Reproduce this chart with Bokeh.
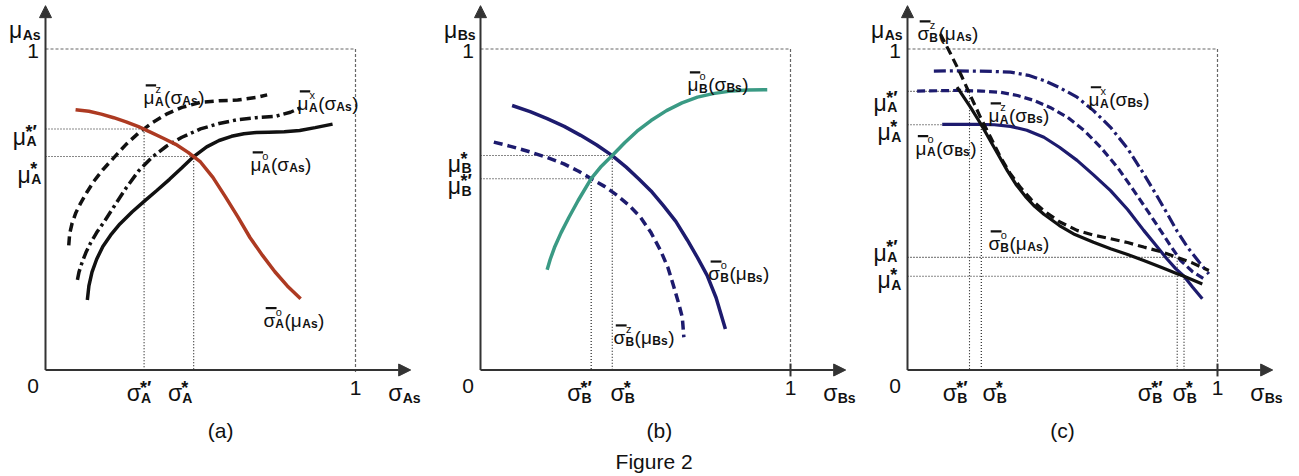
from bokeh.plotting import figure
from bokeh.layouts import row
from bokeh.models import Range1d, Arrow, NormalHead
from bokeh.core.properties import value
from bokeh.embed import file_html
from bokeh.resources import INLINE

FONT = "Liberation Sans"
BLACK = "#111111"
RED = "#ad3a22"
NAVY = "#1d1b6e"
TEAL = "#3a9a84"
AXIS = "#333333"
FRAME = "#666666"

# ---------------- panel (a) data ----------------
a_muo_x = [0.135, 0.140, 0.150, 0.165, 0.185, 0.21, 0.24, 0.28, 0.32, 0.36, 0.40, 0.44, 0.478, 0.52, 0.56, 0.60, 0.64, 0.68, 0.72, 0.77, 0.82, 0.87, 0.926]
a_muo_y = [0.218, 0.262, 0.305, 0.345, 0.385, 0.420, 0.455, 0.493, 0.527, 0.560, 0.594, 0.630, 0.665, 0.695, 0.715, 0.728, 0.736, 0.740, 0.741, 0.742, 0.746, 0.755, 0.766]
a_mux_x = [0.103, 0.108, 0.118, 0.130, 0.145, 0.165, 0.19, 0.22, 0.26, 0.30, 0.345, 0.39, 0.44, 0.50, 0.56, 0.62, 0.68, 0.74, 0.79, 0.828]
a_mux_y = [0.281, 0.305, 0.335, 0.365, 0.395, 0.428, 0.463, 0.508, 0.567, 0.620, 0.664, 0.697, 0.725, 0.751, 0.768, 0.780, 0.786, 0.790, 0.803, 0.819]
a_muz_x = [0.075, 0.078, 0.086, 0.098, 0.113, 0.133, 0.156, 0.185, 0.22, 0.26, 0.30, 0.345, 0.39, 0.44, 0.50, 0.56, 0.62, 0.68, 0.715]
a_muz_y = [0.388, 0.425, 0.458, 0.490, 0.519, 0.553, 0.588, 0.624, 0.661, 0.703, 0.738, 0.771, 0.797, 0.818, 0.834, 0.839, 0.841, 0.849, 0.857]
a_sig_x = [0.097, 0.14, 0.18, 0.22, 0.26, 0.30, 0.34, 0.38, 0.42, 0.46, 0.50, 0.54, 0.58, 0.62, 0.66, 0.70, 0.74, 0.78, 0.823]
a_sig_y = [0.811, 0.806, 0.797, 0.786, 0.773, 0.758, 0.740, 0.722, 0.703, 0.678, 0.648, 0.600, 0.540, 0.478, 0.412, 0.357, 0.306, 0.262, 0.222]
a_sig_star = [0.318, 0.478]   # sigma*' , sigma*
a_mu_star = [0.751, 0.665]    # mu*' , mu*

# ---------------- panel (b) data ----------------
b_muo_x = [0.215, 0.225, 0.240, 0.260, 0.285, 0.315, 0.357, 0.39, 0.425, 0.465, 0.505, 0.55, 0.60, 0.65, 0.70, 0.75, 0.80, 0.86, 0.925]
b_muo_y = [0.312, 0.345, 0.385, 0.428, 0.475, 0.528, 0.596, 0.635, 0.668, 0.708, 0.744, 0.777, 0.808, 0.832, 0.850, 0.861, 0.868, 0.872, 0.873]
b_sigo_x = [0.102, 0.16, 0.215, 0.27, 0.323, 0.375, 0.425, 0.47, 0.51, 0.55, 0.59, 0.63, 0.667, 0.70, 0.731, 0.76, 0.790]
b_sigo_y = [0.824, 0.805, 0.783, 0.759, 0.731, 0.701, 0.668, 0.632, 0.596, 0.558, 0.512, 0.463, 0.405, 0.350, 0.295, 0.225, 0.128]
b_sigz_x = [0.043, 0.10, 0.161, 0.215, 0.269, 0.315, 0.357, 0.40, 0.441, 0.48, 0.516, 0.55, 0.581, 0.605, 0.624, 0.640, 0.651, 0.656]
b_sigz_y = [0.710, 0.696, 0.679, 0.662, 0.642, 0.620, 0.596, 0.572, 0.544, 0.512, 0.476, 0.428, 0.372, 0.318, 0.258, 0.205, 0.164, 0.102]
b_sig_star = [0.357, 0.425]   # sigma*' , sigma*
b_mu_star = [0.596, 0.668]    # mu*' , mu*

# ---------------- panel (c) data ----------------
c_sigz_x = [0.106, 0.139, 0.171, 0.203, 0.235, 0.268, 0.300, 0.33, 0.365, 0.40, 0.44, 0.49, 0.547, 0.60, 0.655, 0.71, 0.762, 0.82, 0.870, 0.92, 0.972]
c_sigz_y = [1.047, 0.985, 0.923, 0.855, 0.788, 0.725, 0.663, 0.614, 0.568, 0.530, 0.496, 0.462, 0.435, 0.420, 0.409, 0.397, 0.383, 0.368, 0.351, 0.333, 0.310]
c_sigo_x = [0.160, 0.203, 0.238, 0.279, 0.322, 0.35, 0.38, 0.41, 0.44, 0.49, 0.54, 0.60, 0.655, 0.71, 0.762, 0.82, 0.870, 0.892, 0.951]
c_sigo_y = [0.881, 0.819, 0.764, 0.694, 0.621, 0.578, 0.541, 0.510, 0.485, 0.450, 0.422, 0.398, 0.378, 0.360, 0.341, 0.319, 0.300, 0.292, 0.268]
c_mux_x = [0.085, 0.15, 0.225, 0.28, 0.332, 0.39, 0.440, 0.49, 0.547, 0.60, 0.655, 0.71, 0.762, 0.80, 0.838, 0.87, 0.903, 0.94, 0.972]
c_mux_y = [0.931, 0.932, 0.931, 0.930, 0.928, 0.918, 0.902, 0.880, 0.850, 0.808, 0.756, 0.690, 0.611, 0.550, 0.487, 0.432, 0.383, 0.337, 0.299]
c_muz_x = [0.031, 0.10, 0.171, 0.24, 0.300, 0.355, 0.407, 0.46, 0.515, 0.57, 0.623, 0.68, 0.730, 0.775, 0.816, 0.85, 0.881, 0.92, 0.956]
c_muz_y = [0.869, 0.870, 0.871, 0.869, 0.865, 0.855, 0.840, 0.818, 0.788, 0.746, 0.694, 0.628, 0.559, 0.495, 0.435, 0.385, 0.341, 0.306, 0.284]
c_muo_x = [0.112, 0.17, 0.225, 0.28, 0.332, 0.385, 0.440, 0.49, 0.547, 0.60, 0.655, 0.71, 0.762, 0.80, 0.838, 0.865, 0.892, 0.92, 0.951]
c_muo_y = [0.765, 0.765, 0.765, 0.764, 0.759, 0.747, 0.725, 0.694, 0.653, 0.608, 0.559, 0.500, 0.435, 0.390, 0.345, 0.316, 0.292, 0.258, 0.222]
c_sig_star_left = [0.200, 0.238]    # sigma*' , sigma*
c_mu_star_up = [0.868, 0.764]       # mu*' , mu*
c_sig_star_right = [0.870, 0.892]   # sigma*' , sigma*
c_mu_star_low = [0.351, 0.292]      # mu*' , mu*

SX, SY = 310.0, 321.0
H = 476
OY = 369.5

WID = {'μ': 0.576, 'σ': 0.60, 'A': 0.722, 'B': 0.722, 's': 0.556, '(': 0.333, ')': 0.333,
       '*': 0.389, '′': 0.28, 'z': 0.5, 'x': 0.556, 'o': 0.611}


def tw(t, size):
    return sum(WID.get(c, 0.556) for c in t) * size


def make_fig(width, ox):
    p = figure(width=width, height=H, output_backend="svg", toolbar_location=None,
               x_range=Range1d(-ox / SX, (width - ox) / SX),
               y_range=Range1d(-(H - OY) / SY, OY / SY),
               x_axis_location=None, y_axis_location=None, min_border=0)
    p.grid.visible = False
    p.outline_line_color = None
    p.background_fill_color = "white"
    p.border_fill_color = "white"
    return p


def put(p, x, y, txt, dx, dy, size, style="normal", color=BLACK, align="left", baseline="alphabetic"):
    p.text(x=[x], y=[y], text=[txt], x_offset=dx, y_offset=dy,
           text_font=value(FONT), text_font_size=f"{size}px", text_font_style=style,
           text_color=color, text_align=align, text_baseline=baseline)


def bar(p, x, y, dx, up, w, color=BLACK):
    p.rect(x=[x + dx / SX], y=[y + up / SY], width=w, height=2.2,
           width_units="screen", height_units="screen", fill_color=color, line_color=None)


def sym(p, x, y, base, sub, sup=None, S=23):
    """base with bold subscript and optional bold superscript (star labels, axis titles)"""
    put(p, x, y, base, 0, 0, S)
    cx = tw(base, S) + 0.5
    ss = round(S * 0.6)
    put(p, x, y, sub, cx, 0.2 * S, ss, "bold")
    if sup is not None:
        sp = round(S * 0.8)
        put(p, x, y, sup, cx - 1, -0.22 * S, sp, "bold")


def fn(p, x, y, f, sub, sup, arg, argsub, S=19):
    """f-bar ^sup _sub ( arg _argsub )"""
    put(p, x, y, f, 0, 0, S)
    wf = tw(f, S)
    bar(p, x, y, wf / 2 + 2.0, 0.64 * S, wf * 0.95)
    cx = wf + 0.5
    ss = round(S * 0.62)
    put(p, x, y, sub, cx, 0.22 * S, ss, "bold")
    put(p, x, y, sup, cx + 0.5, -0.46 * S, round(S * 0.56), "normal")
    cx += max(tw(sub, ss), tw(sup, S * 0.56)) + 0.5
    put(p, x, y, "(", cx, 0, S)
    cx += tw("(", S)
    put(p, x, y, arg, cx, 0, S)
    cx += tw(arg, S) + 0.5
    put(p, x, y, argsub, cx, 0.2 * S, ss, "bold")
    cx += tw(argsub, ss) + 0.5
    put(p, x, y, ")", cx, 0, S)


def axes(p, sub_y, sub_x, base_y="μ", base_x="σ", tick=False):
    head = dict(size=12, fill_color=AXIS, line_color=AXIS)
    p.add_layout(Arrow(end=NormalHead(**head), x_start=0, y_start=0, x_end=1.178, y_end=0,
                       line_color=AXIS, line_width=2))
    p.add_layout(Arrow(end=NormalHead(**head), x_start=0, y_start=0, x_end=0, y_end=1.135,
                       line_color=AXIS, line_width=2))
    p.line([0, 1, 1], [1, 1, -0.012], line_color=FRAME, line_width=1.2, line_dash="3 2")
    if tick:
        p.line([1, 1], [-0.02, 0.02], line_color=AXIS, line_width=2)
    put(p, -0.04, 0.995, "1", 0, 0, 21, align="center", baseline="middle")
    put(p, -0.04, -0.05, "0", 0, 0, 21, align="center", baseline="middle")
    put(p, 1.0, -0.055, "1", 0, 0, 21, align="center", baseline="middle")
    sym(p, -0.118, 1.058, base_y, sub_y)
    sym(p, 1.106, -0.073, base_x, sub_x)


def dotted(p, xs, ys):
    p.line(xs, ys, line_color=BLACK, line_width=1.1, line_dash="1 2")


# ================= panel (a) =================
pa = make_fig(433, 45)
axes(pa, "As", "As")
for sx_, my_ in zip(a_sig_star, a_mu_star):
    dotted(pa, [0, sx_, sx_], [my_, my_, 0])
pa.line(a_muz_x, a_muz_y, line_color=BLACK, line_width=3.5, line_dash="9 5")
pa.line(a_mux_x, a_mux_y, line_color=BLACK, line_width=3.5, line_dash="11 4 3 4")
pa.line(a_muo_x, a_muo_y, line_color=BLACK, line_width=3.5)
pa.line(a_sig_x, a_sig_y, line_color=RED, line_width=3.5)
sym(pa, -0.106, 0.727, "μ", "A", "*′")
sym(pa, -0.090, 0.609, "μ", "A", "*")
sym(pa, 0.262, -0.073, "σ", "A", "*′")
sym(pa, 0.395, -0.073, "σ", "A", "*")
fn(pa, 0.316, 0.849, "μ", "A", "z", "σ", "As")
fn(pa, 0.813, 0.830, "μ", "A", "x", "σ", "As")
fn(pa, 0.661, 0.640, "μ", "A", "o", "σ", "As")
fn(pa, 0.703, 0.155, "σ", "A", "o", "μ", "As")
put(pa, 0.565, -0.19, "(a)", 0, 0, 21, align="center", baseline="middle")

# ================= panel (b) =================
pb = make_fig(432, 47)
axes(pb, "Bs", "Bs", tick=True)
for sx_, my_ in zip(b_sig_star, b_mu_star):
    dotted(pb, [0, sx_, sx_], [my_, my_, 0])
pb.line(b_sigz_x, b_sigz_y, line_color=NAVY, line_width=3.5, line_dash="9 5")
pb.line(b_sigo_x, b_sigo_y, line_color=NAVY, line_width=3.5)
pb.line(b_muo_x, b_muo_y, line_color=TEAL, line_width=3.5)
sym(pb, -0.106, 0.643, "μ", "B", "*")
sym(pb, -0.106, 0.572, "μ", "B", "*′")
sym(pb, 0.280, -0.073, "σ", "B", "*′")
sym(pb, 0.419, -0.073, "σ", "B", "*")
fn(pb, 0.668, 0.889, "μ", "B", "o", "σ", "Bs")
fn(pb, 0.735, 0.300, "σ", "B", "o", "μ", "Bs")
fn(pb, 0.429, 0.101, "σ", "B", "z", "μ", "Bs")
put(pb, 0.577, -0.19, "(b)", 0, 0, 21, align="center", baseline="middle")
put(pb, 0.56, -0.285, "Figure 2", 0, 0, 21, align="center", baseline="middle")

# ================= panel (c) =================
pc = make_fig(434, 42)
axes(pc, "As", "Bs", tick=True)
for sx_, my_ in zip(c_sig_star_left, c_mu_star_up):
    dotted(pc, [0, sx_, sx_], [my_, my_, 0])
for sx_, my_ in zip(c_sig_star_right, c_mu_star_low):
    dotted(pc, [0, sx_, sx_], [my_, my_, 0])
pc.line(c_mux_x, c_mux_y, line_color=NAVY, line_width=3.2, line_dash="12 4 3 4")
pc.line(c_muz_x, c_muz_y, line_color=NAVY, line_width=3.2, line_dash="8 4")
pc.line(c_muo_x, c_muo_y, line_color=NAVY, line_width=3.2)
pc.line(c_sigz_x, c_sigz_y, line_color=BLACK, line_width=3.2, line_dash="9 5")
pc.line(c_sigo_x, c_sigo_y, line_color=BLACK, line_width=3.2)
sym(pc, -0.110, 0.833, "μ", "A", "*′")
sym(pc, -0.097, 0.740, "μ", "A", "*")
sym(pc, -0.110, 0.366, "μ", "A", "*′")
sym(pc, -0.097, 0.279, "μ", "A", "*")
sym(pc, 0.114, -0.073, "σ", "B", "*′")
sym(pc, 0.242, -0.073, "σ", "B", "*")
sym(pc, 0.743, -0.073, "σ", "B", "*′")
sym(pc, 0.855, -0.073, "σ", "B", "*")
fn(pc, 0.032, 1.048, "σ", "B", "z", "μ", "As")
fn(pc, 0.261, 0.793, "μ", "A", "z", "σ", "Bs")
fn(pc, 0.026, 0.691, "μ", "A", "o", "σ", "Bs")
fn(pc, 0.584, 0.843, "μ", "A", "x", "σ", "Bs")
fn(pc, 0.261, 0.394, "σ", "B", "o", "μ", "As")
put(pc, 0.5, -0.19, "(c)", 0, 0, 21, align="center", baseline="middle")

layout = row(pa, pb, pc)
open("out.html", "w").write(file_html(layout, INLINE))
